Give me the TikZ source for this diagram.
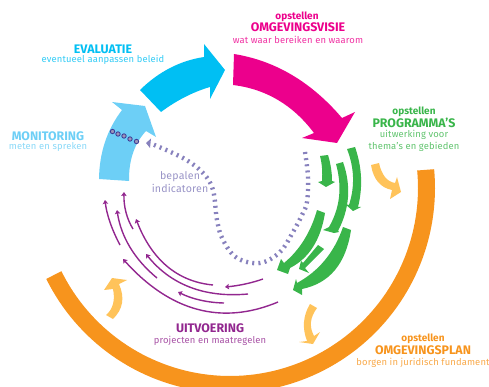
\documentclass[tikz,border=0pt]{standalone}
\usepackage{fontspec}
\setmainfont{Fira Sans}
\usetikzlibrary{arrows.meta}
\definecolor{cyanA}{HTML}{00BFF3}
\definecolor{skyA}{HTML}{6DCFF6}
\definecolor{magA}{HTML}{EC008C}
\definecolor{grnA}{HTML}{39B54A}
\definecolor{orgA}{HTML}{F7941D}
\definecolor{yelA}{HTML}{FFC35A}
\definecolor{purA}{HTML}{92278F}
\definecolor{lavA}{HTML}{8781BD}
\definecolor{dotA}{HTML}{3A3A96}
\definecolor{dotB}{HTML}{9C95B8}
% quadratic-like curve from A through M to B (A is already the current point)
\def\Qc(#1,#2)(#3,#4)(#5,#6){.. controls ({4/3*#3-#5/3},{4/3*#4-#6/3}) and ({4/3*#3-#1/3},{4/3*#4-#2/3}) .. (#5,#6)}
\def\Arc(#1,#2)(#3,#4)(#5,#6){(#1,#2) \Qc(#1,#2)(#3,#4)(#5,#6)}
\tikzset{
  x=1pt,y=-1pt,
  head/.style={font=\fontsize{12.4}{13}\selectfont\bfseries,inner sep=0pt},
  pre/.style={font=\fontsize{10}{11}\selectfont\bfseries,inner sep=0pt},
  sub/.style={font=\fontsize{9.4}{10}\selectfont\addfontfeature{LetterSpace=1.5},inner sep=0pt,text opacity=.8},
  subb/.style={font=\fontsize{10.6}{11}\selectfont\addfontfeature{LetterSpace=1.5},inner sep=0pt,text opacity=.85},
  pline/.style={draw=purA,line width=1.4pt,-{Stealth[length=4pt,width=5.5pt,inset=.8pt]}},
  dots/.style={circle,draw=dotA,fill=dotB,line width=.8pt,minimum size=4.4pt,inner sep=0pt}
}
\begin{document}
\begin{tikzpicture}
\useasboundingbox (0,0) rectangle (489,387);
\begin{scope}
\clip (0,0) rectangle (489,387);
\draw[orgA,line width=17pt] plot[domain=-5.3:153.7,samples=90] ({230+196.5*cos(\x)},{188+196.5*sin(\x)});
\end{scope}
% cyan
\fill[cyanA] (140,90) \Qc(140,90)(170,68)(204,57) -- (204,44) -- (225,70) -- (210,99) -- (210,87) \Qc(210,87)(185,97)(161,112) -- cycle;
% sky
\fill[skyA] (99,179) \Qc(99,179)(105,142)(122,110) -- (112,102) -- (145,106) -- (156,137) -- (146,131) \Qc(146,131)(133,153)(129,181) -- cycle;
% magenta
\fill[magA] (234,54) \Qc(234,54)(292,75)(342,118) -- (355,112) -- (337,143) -- (302,138) -- (314,133) \Qc(314,133)(278,100)(233,85) -- cycle;
% dots
\foreach \i/\px/\py in {a/112.5/131.5,b/118/134,c/124/136,d/130/139,e/136.5/141.5}
  \node[dots] (dot\i) at (\px,\py) {};
% dashed
\draw[lavA,line width=4.4pt,dash pattern=on 2pt off 4.2pt] plot[smooth,tension=.6] coordinates {(305,152) (308,177) (307,202) (302,215) (293,232) (280,252) (260,263) (237,258) (223,240) (217,220) (213,190) (203,173) (183,158) (152,144)};
\fill[lavA] (146,143) -- (151,138.5) -- (150,148) -- cycle;
% green
\fill[grnA] (320,156) -- (328,155) \Qc(328,155)(331,168)(332,181) -- (335,182) -- (326,187) -- (318,182) -- (322,181) \Qc(322,181)(322,168)(320,156) -- cycle;
\fill[grnA] (336,164) \Qc(336,164)(339,197)(329,227) -- (323,230) -- (334,233) -- (339,232) -- (338,231) \Qc(338,231)(348,197)(343,162) -- cycle;
\fill[grnA] (347,149) \Qc(347,149)(353,177)(349,205) -- (345,204) -- (353,211) -- (361,207) -- (358,207) \Qc(358,207)(361,177)(355,147) -- cycle;
\fill[grnA] (317,210) \Qc(317,210)(304,240)(284,263) -- (281,259) -- (277,270) -- (288,274) -- (290,268) \Qc(290,268)(313,247)(325,213) -- cycle;
\fill[grnA] (318,245) -- (324,249) -- (305,268) -- (309,273) -- (299,269) -- (301,261) -- (303,263) -- cycle;
\fill[grnA] (343,227) \Qc(343,227)(325,260)(297,283) -- (296,279) -- (293,290) -- (302,295) -- (302,289) \Qc(302,289)(335,270)(351,230) -- cycle;
% yellow
\fill[yelA] (371,165) \Qc(371,165)(378,182)(392,190) -- (390,199) -- (401,192) -- (397,177) -- (395,183) \Qc(395,183)(385,177)(379,163) -- cycle;
\fill[yelA] (310,304) \Qc(310,304)(304,322)(307,341) -- (299,342) -- (313,344) -- (320,332) -- (314,336) \Qc(314,336)(311,322)(317,308) -- cycle;
\fill[yelA] (106,315) \Qc(106,315)(113,304)(113,289) -- (104,290) -- (112,278) -- (127,280) -- (119,284) \Qc(119,284)(122,303)(113,319) -- cycle;
% purple
\draw[pline] \Arc(213,285)(167,266)(136,219);
\draw[pline] \Arc(278,302)(197,309)(123,259);
\draw[pline] \Arc(248,294)(190,287)(146,254);
\draw[pline] \Arc(224,303)(200,300)(178,292);
\draw[pline] \Arc(263,279)(245,284)(225,287);
\draw[pline] \Arc(157,278)(130,247)(117,210);
\draw[pline] \Arc(120,245)(110,222)(105,200);
\draw[pline] \Arc(133,229)(126,212)(124,192);
% text
\node[pre,magA] (t1) at (297,16.5) {opstellen};
\node[head,magA] (t2) at (298,27.5) {OMGEVINGSVISIE};
\node[sub,magA] (t3) at (298,39.5) {wat waar bereiken en waarom};
\node[head,cyanA] (t4) at (103,49) {EVALUATIE};
\node[sub,cyanA] (t5) at (103,60) {eventueel aanpassen beleid};
\node[head,skyA] (t6) at (48,136) {MONITORING};
\node[sub,skyA] (t7) at (48,147) {meten en spreken};
\node[subb,lavA] (t8) at (180,176.5) {bepalen};
\node[subb,lavA] (t9) at (180,188.5) {indicatoren};
\node[pre,grnA] (t10) at (414,112) {opstellen};
\node[head,grnA] (t11) at (414,123) {PROGRAMMA’S};
\node[sub,grnA] (t12) at (414,135) {uitwerking voor};
\node[sub,grnA] (t13) at (414,146.5) {thema’s en gebieden};
\node[head,purA] (t14) at (210,328) {UITVOERING};
\node[sub,purA] (t15) at (210,341) {projecten en maatregelen};
\node[pre,orgA] (t16) at (423,339) {opstellen};
\node[head,orgA] (t17) at (423,350.5) {OMGEVINGSPLAN};
\node[sub,orgA] (t18) at (423,362.5) {borgen in juridisch fundament};
\end{tikzpicture}
\end{document}
